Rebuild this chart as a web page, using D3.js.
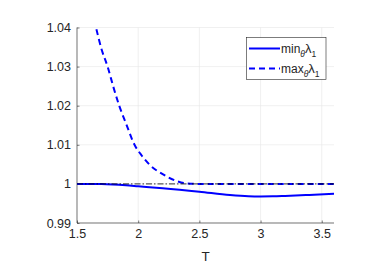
<!DOCTYPE html>
<html>
<head>
<meta charset="utf-8">
<script src="https://d3js.org/d3.v7.min.js"></script>
<style>
body { margin: 0; background: #fff; }
text { font-family: "Liberation Sans", Arial, sans-serif; fill: #262626; }
</style>
</head>
<body>
<svg width="382" height="272"></svg>
<script>
// values
var maxT   = [1.60, 1.655, 1.70, 1.75, 1.80, 1.845, 1.90, 1.97, 2.03, 2.10, 2.20, 2.30, 2.40, 2.50, 3.00, 3.60];
var maxLam = [1.047, 1.040, 1.0345, 1.030, 1.0245, 1.020, 1.0155, 1.010, 1.0072, 1.0047, 1.0025, 1.0009, 1.0001, 1.0, 1.0, 1.0];
var minT   = [1.5, 1.7, 1.9, 2.0, 2.2, 2.5, 2.75, 2.9, 3.0, 3.1, 3.2, 3.4, 3.6];
var minLam = [1.0, 0.99995, 0.99965, 0.9994, 0.9989, 0.9980, 0.99715, 0.99685, 0.99680, 0.99683, 0.99693, 0.99718, 0.99745];
var refT   = [1.5, 3.6];
var refLam = [1.0, 1.0];
var xTicks = [1.5, 2, 2.5, 3, 3.5];
var yTicks = [0.99, 1, 1.01, 1.02, 1.03, 1.04];

var svg = d3.select("svg");
var pL = 77, pR = 334, pT = 27.5, pB = 223;

var x = d3.scaleLinear().domain([1.5, 3.6]).range([pL, pR]);
var y = d3.scaleLinear().domain([0.99, 1.04]).range([pB, pT]);

svg.append("defs").append("clipPath").attr("id", "clip")
  .append("rect").attr("x", pL).attr("y", pT).attr("width", pR - pL).attr("height", pB - pT);

// grid
var grid = svg.append("g");
grid.selectAll(".gx").data(xTicks).enter().append("line")
  .attr("x1", d => x(d)).attr("x2", d => x(d)).attr("y1", pT).attr("y2", pB)
  .attr("stroke", "#e5e5e5").attr("stroke-width", 0.6);
grid.selectAll(".gy").data(yTicks).enter().append("line")
  .attr("y1", d => y(d)).attr("y2", d => y(d)).attr("x1", pL).attr("x2", pR)
  .attr("stroke", "#e5e5e5").attr("stroke-width", 0.6);

// axes
var xAxis = svg.append("g").attr("transform", "translate(0," + pB + ")")
  .call(d3.axisBottom(x).tickValues(xTicks).tickSize(-2.5).tickPadding(6).tickFormat(d3.format("")));
var yAxis = svg.append("g").attr("transform", "translate(" + pL + ",0)")
  .call(d3.axisLeft(y).tickValues(yTicks).tickSize(-2.5).tickPadding(6).tickFormat(d => d === 1 ? "1" : d3.format(".2f")(d)));
[xAxis, yAxis].forEach(function(a) {
  a.select(".domain").attr("stroke", "#262626").attr("stroke-width", 0.6);
  a.selectAll(".tick line").attr("stroke", "#262626").attr("stroke-width", 0.6);
  a.selectAll("text").attr("font-size", 12.5).attr("fill", "#262626")
    .style("font-family", "Liberation Sans, Arial, sans-serif");
});
xAxis.select(".domain").attr("d", "M" + pL + ",0H" + pR);
yAxis.select(".domain").attr("d", "M0," + pT + "V" + pB);

svg.append("text").attr("x", (pL + pR) / 2).attr("y", 261)
  .attr("text-anchor", "middle").attr("font-size", 13.5).text("T");

// lines
var line = d3.line().curve(d3.curveMonotoneX);
var plot = svg.append("g").attr("clip-path", "url(#clip)");

plot.append("path")
  .attr("d", line(minT.map((t, i) => [x(t), y(minLam[i])])))
  .attr("fill", "none").attr("stroke", "#0000ff").attr("stroke-width", 2);

plot.append("path")
  .attr("d", line(maxT.map((t, i) => [x(t), y(maxLam[i])])))
  .attr("fill", "none").attr("stroke", "#0000ff").attr("stroke-width", 2)
  .attr("stroke-dasharray", "6,4");

plot.append("path")
  .attr("d", line(refT.map((t, i) => [x(t), y(refLam[i])])))
  .attr("fill", "none").attr("stroke", "#000").attr("stroke-width", 0.8)
  .attr("stroke-dasharray", "6,2,1.5,2");

// legend
var lg = svg.append("g");
lg.append("rect").attr("x", 246.5).attr("y", 37.5).attr("width", 79.5).attr("height", 42)
  .attr("fill", "#fff").attr("stroke", "#262626").attr("stroke-width", 0.6);
var items = [{label: "min", y: 48.5, dash: null}, {label: "max", y: 68.5, dash: "6,4"}];
items.forEach(function(it) {
  lg.append("line").attr("x1", 249).attr("x2", 280).attr("y1", it.y).attr("y2", it.y)
    .attr("stroke", "#0000ff").attr("stroke-width", 2).attr("stroke-dasharray", it.dash);
  var t = lg.append("text").attr("x", 281).attr("y", it.y + 4).attr("font-size", 12);
  t.append("tspan").text(it.label);
  t.append("tspan").attr("font-size", 8.5).attr("font-style", "italic").attr("dy", 4).text("θ");
  t.append("tspan").attr("dy", -4).attr("font-size", 13).text("λ");
  t.append("tspan").attr("font-size", 8.5).attr("dy", 4).text("1");
});
</script>
</body>
</html>
